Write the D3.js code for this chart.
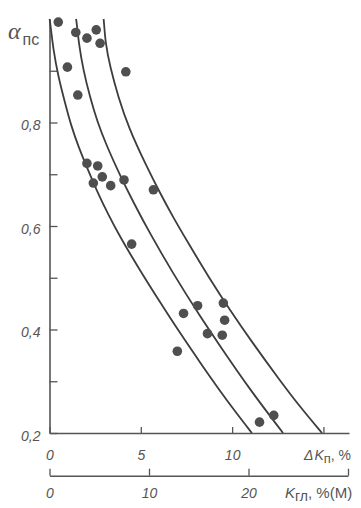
<!DOCTYPE html>
<html>
<head>
<meta charset="utf-8">
<script src="https://cdn.jsdelivr.net/npm/d3@7"></script>
<style>
  html, body { margin: 0; padding: 0; background: #fff; }
  svg { display: block; }
  text { font-family: "Liberation Sans", Arial, sans-serif; fill: #555; }
</style>
</head>
<body>
<svg id="chart" width="361" height="508"></svg>
<script>
// ---- data ----
const alphaTicks = [0.2, 0.3, 0.4, 0.5, 0.6, 0.7, 0.8, 0.9];
const alphaLabels = [0.2, 0.4, 0.6, 0.8];
const dkTicks = [0, 5, 10, 15];
const kglTicks = [0, 10, 20, 30];

// curves: [ΔKп, αпс]
const curveLow = [[0.0,1.0],[0.03,0.996],[0.21,0.94],[0.48,0.889],[0.85,0.838],[1.2,0.792],[1.6,0.752],[2.04,0.714],[2.59,0.668],[3.22,0.622],[3.86,0.579],[4.96,0.514],[6.05,0.453],[7.15,0.393],[8.25,0.336],[9.34,0.281],[10.22,0.239],[11.08,0.2]];
const curveMid = [[1.45,1.0],[1.48,0.996],[1.6,0.954],[1.85,0.901],[2.22,0.849],[2.62,0.801],[3.13,0.755],[3.86,0.698],[4.59,0.646],[5.51,0.585],[6.77,0.508],[8.25,0.425],[9.34,0.368],[10.99,0.283],[12.79,0.2]];
const curveHigh = [[2.96,1.0],[2.98,0.996],[3.06,0.954],[3.32,0.907],[3.77,0.849],[4.32,0.791],[5.33,0.714],[6.05,0.664],[6.75,0.618],[7.6,0.567],[8.7,0.502],[9.89,0.437],[11.08,0.376],[12.63,0.301],[13.73,0.25],[14.92,0.2]];

// measured points
const pointDK    = [0.48,1.44,2.05,2.56,2.77,0.98,4.18,1.55,2.05,2.64,2.89,2.40,3.35,4.08,5.69,4.50,7.34,8.11,9.52,9.59,8.65,9.46,7.00,11.50,12.28];
const pointAlpha = [0.994,0.974,0.963,0.979,0.953,0.907,0.898,0.853,0.721,0.716,0.695,0.683,0.678,0.689,0.670,0.565,0.431,0.446,0.451,0.418,0.392,0.389,0.358,0.221,0.234];

// ---- drawing ----
const svg = d3.select("#chart");
const x = d3.scaleLinear().domain([0, 16.4]).range([49.5, 349]);
const y = d3.scaleLinear().domain([0.2, 1.0]).range([433, 19]);
const x2 = d3.scaleLinear().domain([0, 30]).range([49.5, 348]);
const fmt = d => String(d).replace(".", ",");

function styleAxis(g) {
  g.select(".domain").attr("stroke", "#555").attr("stroke-width", 1.6);
  g.selectAll(".tick line").attr("stroke", "#555").attr("stroke-width", 1.3);
  g.selectAll(".tick text").attr("fill", "#555").style("font-style", "italic")
    .style("font-size", "14px").attr("font-family", null);
}

// Y axis
const gy = svg.append("g").attr("transform", "translate(49.5,0)")
  .call(d3.axisLeft(y).tickValues(alphaTicks).tickSizeInner(-8).tickSizeOuter(0).tickPadding(9)
    .tickFormat(d => alphaLabels.some(v => Math.abs(v - d) < 1e-9) ? fmt(d.toFixed(1)) : ""));
styleAxis(gy);
gy.selectAll(".tick text").attr("y", 3);

// X axis (ΔKп)
const gx = svg.append("g").attr("transform", "translate(0,433)")
  .call(d3.axisBottom(x).tickValues(dkTicks).tickSizeInner(-6).tickSizeOuter(0).tickPadding(17)
    .tickFormat(d => d === 15 ? "" : String(d)));
styleAxis(gx);

// Second X axis (Kгл)
const gx2 = svg.append("g").attr("transform", "translate(0,475.7)")
  .call(d3.axisBottom(x2).tickValues(kglTicks).tickSizeInner(-7).tickSizeOuter(0).tickPadding(12)
    .tickFormat(d => d === 30 ? "" : String(d)));
styleAxis(gx2);

// curves
const line = d3.line().x(d => x(d[0])).y(d => y(d[1])).curve(d3.curveBasis);
[curveLow, curveMid, curveHigh].forEach(c => {
  svg.append("path").datum(c).attr("d", line)
    .attr("fill", "none").attr("stroke", "#3d3d3d").attr("stroke-width", 1.8);
});

// points
svg.append("g").selectAll("circle").data(pointDK.map((d, i) => [d, pointAlpha[i]]))
  .join("circle")
  .attr("cx", d => x(d[0])).attr("cy", d => y(d[1])).attr("r", 4.8)
  .attr("fill", "#4f4f4f");

// axis titles
const ty = svg.append("text").attr("x", 8).attr("y", 39);
ty.append("tspan").text("α").style("font-family", "'Liberation Serif', serif").style("font-style", "italic").style("font-size", "24px");
ty.append("tspan").text("пс").attr("dy", 6).attr("dx", 2).style("font-size", "16px");

const tx = svg.append("text").attr("x", 304).attr("y", 460).style("font-size", "14px");
tx.append("tspan").text("Δ").style("font-style", "italic");
tx.append("tspan").text("K").style("font-style", "italic").attr("dx", 1);
tx.append("tspan").text("п").attr("dy", 3).style("font-size", "13px");
tx.append("tspan").text(", %").attr("dy", -3);

const tx2 = svg.append("text").attr("x", 285).attr("y", 498).style("font-size", "15px");
tx2.append("tspan").text("K").style("font-style", "italic");
tx2.append("tspan").text("гл").attr("dy", 3).style("font-size", "14px");
tx2.append("tspan").text(", %(M)").attr("dy", -3);
</script>
</body>
</html>
